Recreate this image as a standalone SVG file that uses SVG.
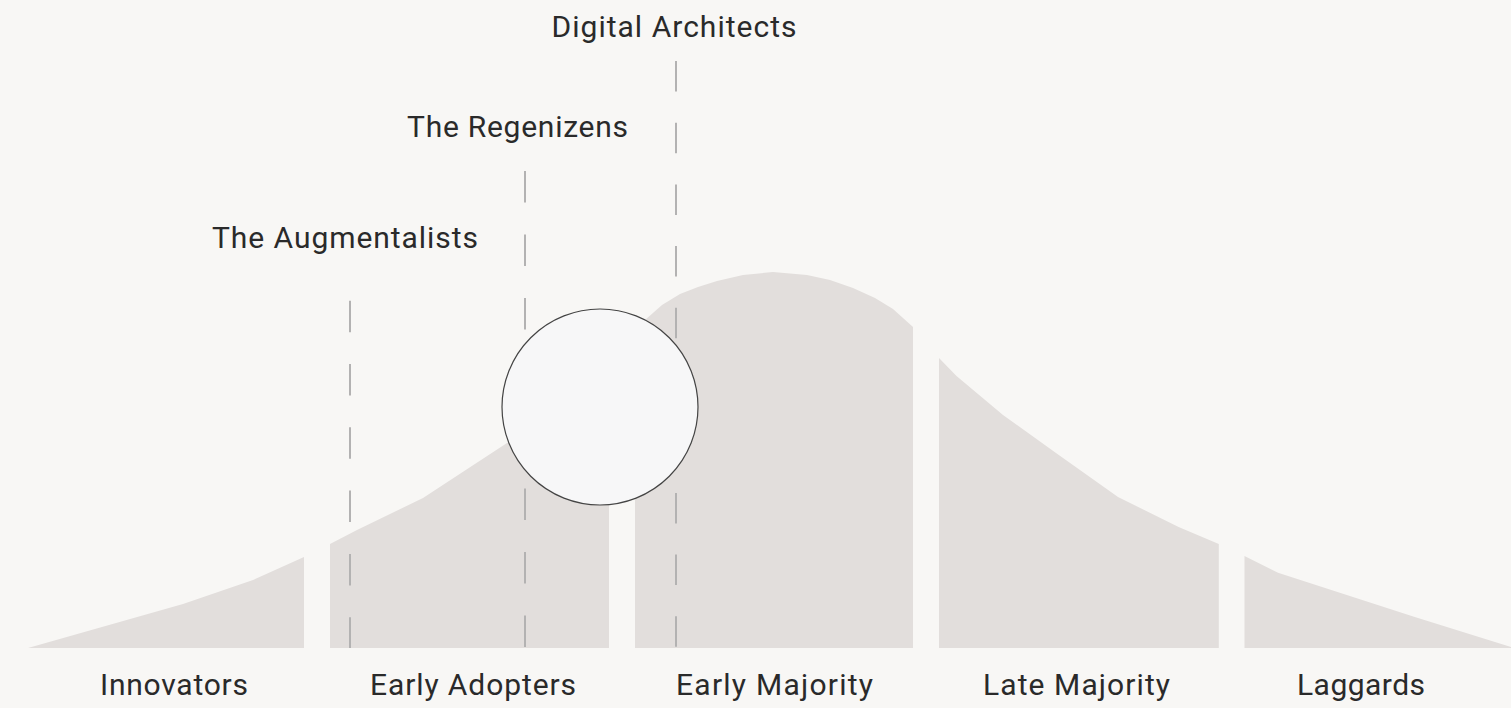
<svg xmlns="http://www.w3.org/2000/svg" width="1511" height="708" viewBox="0 0 1511 708">
  <style>
    .segment { fill: #e2dedc; }
    .label { font-family: Roboto, "Liberation Sans", sans-serif; font-weight: 400; font-size: 30px; fill: #2a2a2a; text-anchor: middle; }
    .guide { stroke: #b3b2b2; stroke-width: 2; fill: none; }
    .lens { fill: #f7f7f8; stroke: #444; stroke-width: 1.2; }
  </style>
  <rect width="1511" height="708" fill="#f8f7f5"/>

  <!-- adoption curve, split into five segments -->
  <g id="innovators">
    <path class="segment" d="M28,648 L183,604 L253,580 L304,557 L304,648 Z"/>
    <text class="label" x="174" y="695" textLength="148">Innovators</text>
  </g>
  <g id="early-adopters">
    <path class="segment" d="M330,544 L357,530 L423,498 L507,443 L609,378 L609,648 L330,648 Z"/>
    <text class="label" x="473" y="695" textLength="206">Early Adopters</text>
  </g>
  <g id="early-majority">
    <path class="segment" d="M635,648 L635,334 L645,320 L662,305 L680,294 L698,287 L717,281 L743,275 L773,272 L807,275 L830,280 L853,288 L875,298 L893,309 L913,327 L913,648 Z"/>
    <text class="label" x="774.5" y="695" textLength="197">Early Majority</text>
  </g>
  <g id="late-majority">
    <path class="segment" d="M939,358 L956.5,376 L1003,415 L1056,453 L1118,497 L1178.6,527 L1218.8,544 L1218.8,648 L939,648 Z"/>
    <text class="label" x="1076.5" y="695" textLength="187">Late Majority</text>
  </g>
  <g id="laggards">
    <path class="segment" d="M1244.5,556 L1278,572.7 L1414,616.7 L1511,647 L1511,648 L1244.5,648 Z"/>
    <text class="label" x="1361" y="695" textLength="128">Laggards</text>
  </g>

  <!-- dashed guide lines for the three groups -->
  <g id="connectors">
    <line class="guide" x1="350" y1="300.7" x2="350" y2="648" stroke-dasharray="31.5 31.8"/>
    <line class="guide" x1="525" y1="171" x2="525" y2="648" stroke-dasharray="31.5 32"/>
    <line class="guide" x1="676" y1="61" x2="676" y2="648" stroke-dasharray="30.5 31.2"/>
  </g>

  <g id="lens">
    <circle class="lens" cx="600" cy="407" r="98"/>
  </g>

  <g id="augmentalists">
    <text class="label" x="345" y="248" textLength="266">The Augmentalists</text>
  </g>
  <g id="regenizens">
    <text class="label" x="517.5" y="137" textLength="221">The Regenizens</text>
  </g>
  <g id="digital-architects">
    <text class="label" x="674" y="37" textLength="245">Digital Architects</text>
  </g>
</svg>
